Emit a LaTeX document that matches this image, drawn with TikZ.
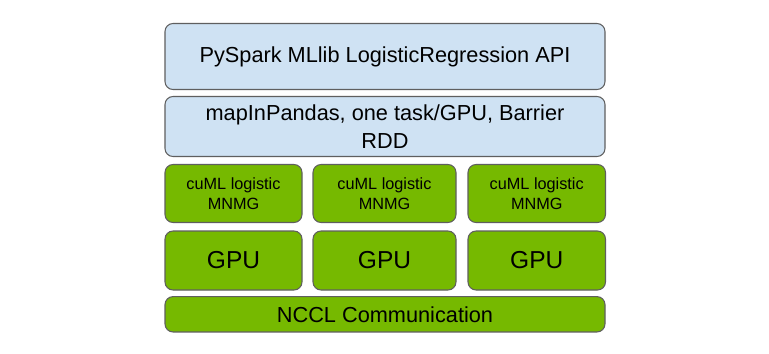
\documentclass[tikz,border=0pt]{standalone}
\usepackage{fontspec}
\setmainfont{Liberation Sans}
\definecolor{lblue}{HTML}{CFE2F3}
\definecolor{nvgreen}{HTML}{76B900}
\definecolor{edgegray}{HTML}{5F5F5F}
\begin{document}
\begin{tikzpicture}[x=0.75pt,y=-0.75pt,
  layerbox/.style={draw=edgegray,line width=0.8pt,rounded corners=6pt,inner sep=0pt,align=center,text=black},
  bluebox/.style={layerbox,fill=lblue},
  greenbox/.style={layerbox,fill=nvgreen},
  bigfont/.style={font=\fontsize{16.3}{21.5}\selectfont},
  gpufont/.style={font=\fontsize{18.4}{22}\selectfont},
  smallfont/.style={font=\fontsize{12.2}{15.3}\selectfont}]
\useasboundingbox (0,0) rectangle (769,354);
\fill[white] (0,0) rectangle (769,354);
\node[bluebox,bigfont,minimum width=330pt,minimum height=49.5pt] (api) at (385,56.5) {PySpark MLlib LogisticRegression API};
\node[bluebox,bigfont,minimum width=330pt,minimum height=45pt] (map) at (385,126.5) {mapInPandas, one task/GPU, Barrier\\RDD};
\node[greenbox,smallfont,minimum width=102.75pt,minimum height=43.5pt] (cuml1) at (233.5,193.5) {cuML logistic\\MNMG};
\node[greenbox,smallfont,minimum width=107.25pt,minimum height=43.5pt] (cuml2) at (384.5,193.5) {cuML logistic\\MNMG};
\node[greenbox,smallfont,minimum width=103.1pt,minimum height=43.5pt] (cuml3) at (536.75,193.5) {cuML logistic\\MNMG};
\node[greenbox,gpufont,minimum width=102.75pt,minimum height=44.25pt] (gpu1) at (233.5,260.5) {GPU};
\node[greenbox,gpufont,minimum width=107.25pt,minimum height=44.25pt] (gpu2) at (384.5,260.5) {GPU};
\node[greenbox,gpufont,minimum width=103.1pt,minimum height=44.25pt] (gpu3) at (536.75,260.5) {GPU};
\node[greenbox,bigfont,minimum width=330pt,minimum height=26.5pt] (nccl) at (385,314.3) {NCCL Communication};
\end{tikzpicture}
\end{document}
